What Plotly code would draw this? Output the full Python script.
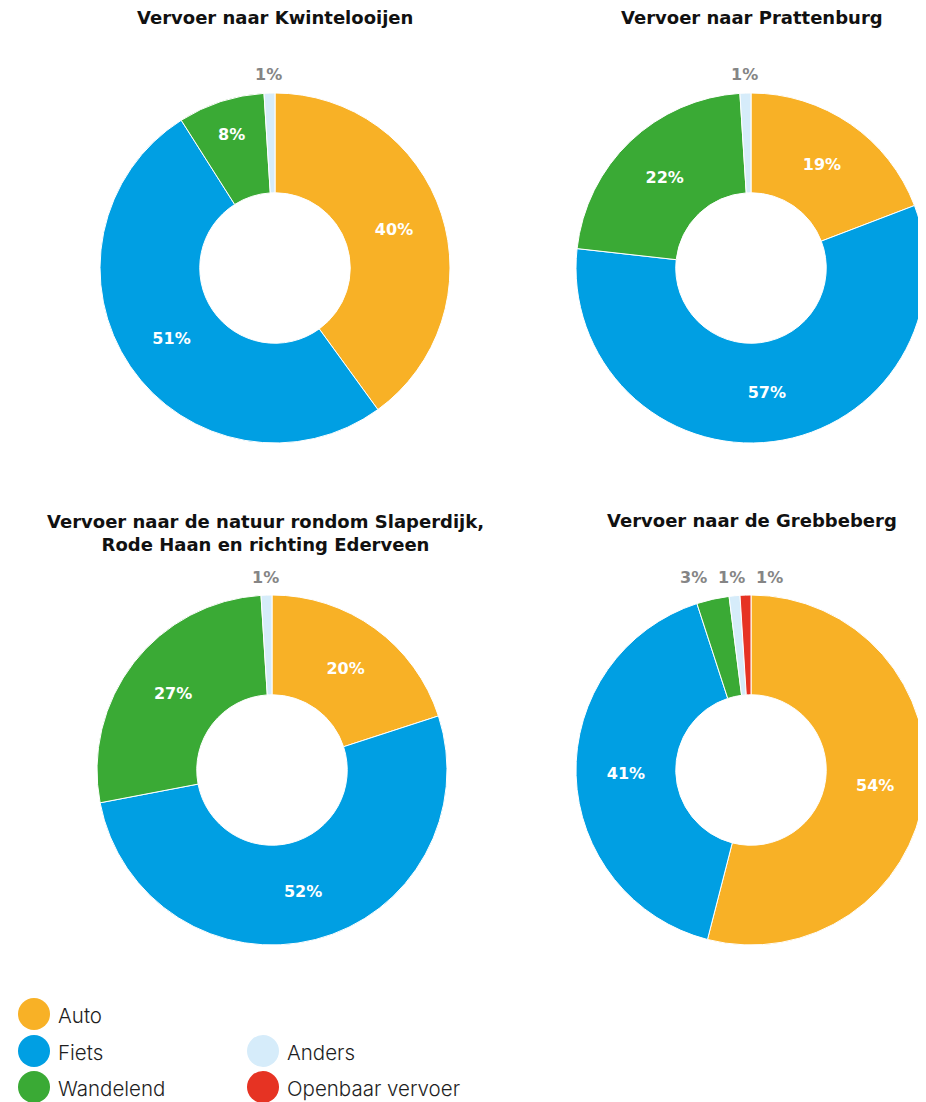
import math
import plotly.graph_objects as go

# ---------------- data ----------------
categories = ["Auto", "Fiets", "Wandelend", "Anders", "Openbaar vervoer"]
colors = ["#F8B126", "#009FE3", "#3AAA35", "#D6ECFA", "#E63323"]

titles = [
    "Vervoer naar Kwintelooijen",
    "Vervoer naar Prattenburg",
    "Vervoer naar de natuur rondom Slaperdijk,<br>Rode Haan en richting Ederveen",
    "Vervoer naar de Grebbeberg",
]

kwintelooijen = [40, 51, 8, 1, 0]
prattenburg = [19, 57, 22, 1, 0]
slaperdijk = [20, 52, 27, 1, 0]
grebbeberg = [54, 41, 3, 1, 1]

series = [kwintelooijen, prattenburg, slaperdijk, grebbeberg]

# legend slots (column, row)
legend_slots = {"Auto": (0, 0), "Fiets": (0, 1), "Wandelend": (0, 2),
                "Anders": (1, 1), "Openbaar vervoer": (1, 2)}

# ---------------- layout geometry (page pixels) ----------------
OFF = 8                      # page body margin in the browser
PW, PH = 926, 1102
W, H = PW - OFF, PH - OFF    # figure size
R = 175
centers = [(275, 268), (751, 268), (272, 770), (751, 770)]
title_pos = [(275, 18), (752, 18), (265, 533), (752, 520)]
TFONT = "DejaVu Sans"
LFONT = "Inter"


def px(x):
    return (x - OFF) / W


def py(y):
    return 1 - (y - OFF) / H


fig = go.Figure()
annotations = []

for idx, vals in enumerate(series):
    cx, cy = centers[idx]
    labs = [c for c, v in zip(categories, vals) if v > 0]
    cols = [col for col, v in zip(colors, vals) if v > 0]
    vv = [v for v in vals if v > 0]
    texts = [f"{v}%" if v >= 5 else "" for v in vv]
    fig.add_trace(go.Pie(
        labels=labs, values=vv, text=texts, texttemplate="%{text}",
        textposition="inside", insidetextorientation="horizontal",
        textfont=dict(family=TFONT, size=16, color="white", weight="bold"),
        marker=dict(colors=cols, line=dict(color="white", width=1)),
        hole=0.43, sort=False, direction="clockwise", rotation=0,
        hoverinfo="label+value", showlegend=False,
        domain=dict(x=[max(0.0, px(cx - R)), min(1.0, px(cx + R))],
                    y=[max(0.0, py(cy + R)), min(1.0, py(cy - R))]),
    ))
    # outside labels for small slices
    total = sum(vv)
    cum = 0
    small = []
    for v in vv:
        if v < 5:
            th = 2 * math.pi * (cum + v / 2) / total
            small.append([cx + (R + 18) * math.sin(th), f"{v}%"])
        cum += v
    small.sort()
    if small:
        mean0 = sum(s[0] for s in small) / len(small)
        for i in range(1, len(small)):
            if small[i][0] < small[i - 1][0] + 38:
                small[i][0] = small[i - 1][0] + 38
        shift = mean0 - sum(s[0] for s in small) / len(small) + 3
        if len(small) == 1:
            shift = 0
        for s in small:
            annotations.append(dict(
                x=px(s[0] + shift), y=py(cy - R - 18), xref="paper", yref="paper",
                text=f"<b>{s[1]}</b>", showarrow=False, xanchor="center",
                yanchor="middle",
                font=dict(family=TFONT, size=16, color="#858585")))
    tx, ty = title_pos[idx]
    annotations.append(dict(
        x=px(tx), y=py(ty), xref="paper", yref="paper",
        text=f"<b>{titles[idx]}</b>", showarrow=False, xanchor="center",
        yanchor="middle",
        font=dict(family=TFONT, size=18, color="#111111")))

# ---------------- legend ----------------
col_x = [34, 263]
row_y = [1014, 1051, 1087]
fig.add_trace(go.Scatter(
    x=[col_x[legend_slots[c][0]] - OFF for c in categories],
    y=[row_y[legend_slots[c][1]] - OFF for c in categories],
    mode="markers",
    marker=dict(size=32, color=colors, line=dict(width=0)),
    cliponaxis=False, showlegend=False, hoverinfo="skip",
    xaxis="x", yaxis="y",
))
for c in categories:
    ci, ri = legend_slots[c]
    annotations.append(dict(
        x=px(col_x[ci] + 22), y=py(row_y[ri] + 1), xref="paper", yref="paper",
        text=c, showarrow=False, xanchor="left", yanchor="middle",
        font=dict(family=LFONT, size=20.5, color="#1e1e1e", weight=300)))

fig.update_layout(
    width=W, height=H, margin=dict(l=0, r=0, t=0, b=0),
    paper_bgcolor="white", plot_bgcolor="rgba(0,0,0,0)",
    xaxis=dict(range=[0, W], domain=[0, 1], visible=False, fixedrange=True),
    yaxis=dict(range=[H, 0], domain=[0, 1], visible=False, fixedrange=True),
    annotations=annotations,
)

fig.write_html("out.html")
